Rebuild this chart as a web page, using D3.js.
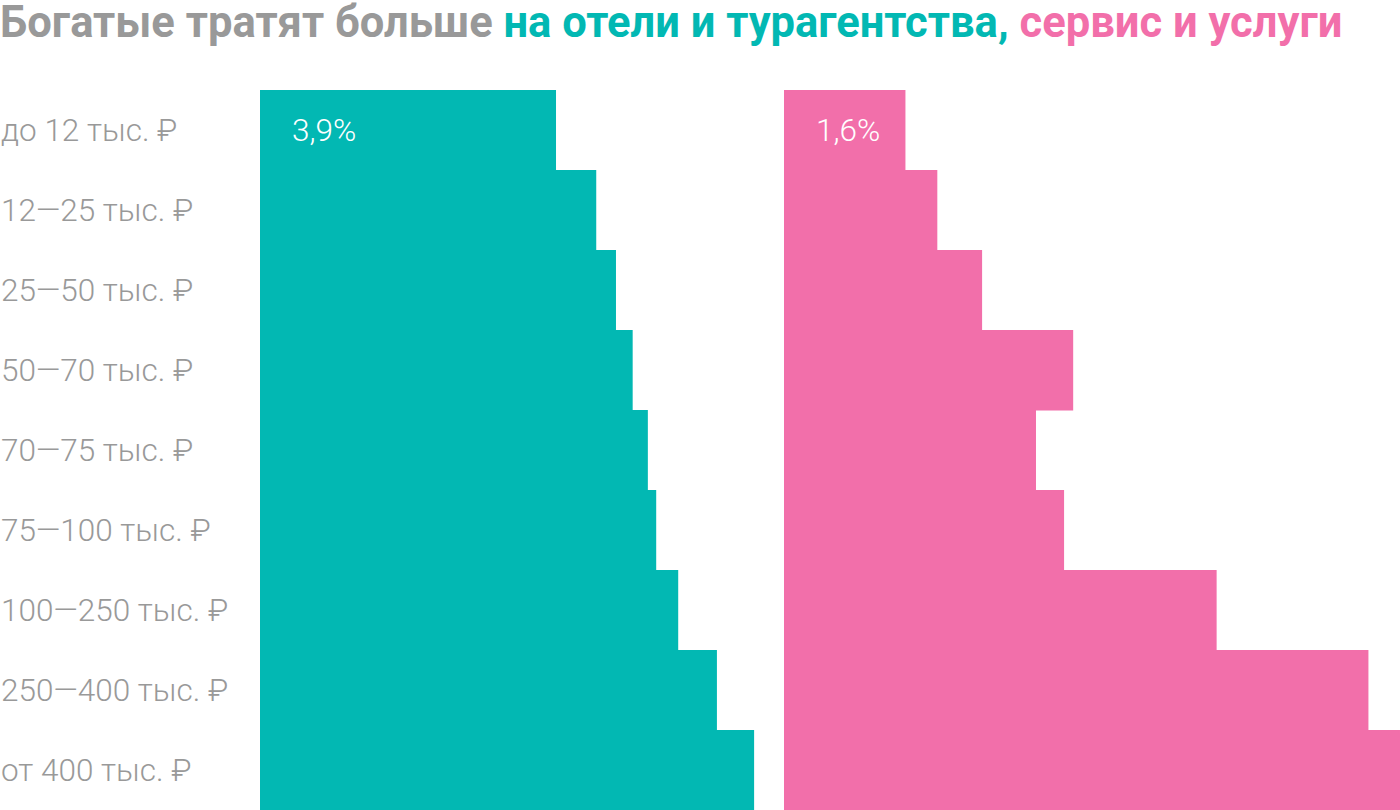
<!DOCTYPE html>
<html><head><meta charset="utf-8">
<script src="https://cdn.jsdelivr.net/npm/d3@7"></script>
<style>body{margin:0;background:#fff}svg{display:block}</style>
</head><body>
<svg id="c" width="1400" height="810"></svg>
<script>
const categories = ["до 12 тыс. ₽","12—25 тыс. ₽","25—50 тыс. ₽","50—70 тыс. ₽","70—75 тыс. ₽","75—100 тыс. ₽","100—250 тыс. ₽","250—400 тыс. ₽","от 400 тыс. ₽"];
const hotels = [3.9, 4.43, 4.69, 4.91, 5.11, 5.22, 5.51, 6.02, 6.51];
const services = [1.6, 2.02, 2.61, 3.81, 3.32, 3.69, 5.7, 7.7, 8.3];
const valueLabels = ["3,9%", "1,6%"];
const titleParts = [
  {text:"Богатые тратят больше ", color:"#999999"},
  {text:"на отели и турагентства,", color:"#02B8B3"},
  {text:" сервис и услуги", color:"#F26FAA"}
];
const teal = "#02B8B3", pink = "#F26FAA";

const svg = d3.select("#c");
const y = d3.scaleBand().domain(categories).range([90, 810]).padding(0);
const x = d3.scaleLinear().domain([0, 1]).range([0, 75.9]);
const originHotels = 260, originServices = 784;

// bars
svg.append("g").selectAll("rect").data(hotels).join("rect")
  .attr("x", originHotels).attr("y", (d,i)=>y(categories[i]))
  .attr("width", d=>x(d)).attr("height", y.bandwidth()+0.5).attr("fill", teal);
svg.append("g").selectAll("rect").data(services).join("rect")
  .attr("x", originServices).attr("y", (d,i)=>y(categories[i]))
  .attr("width", d=>Math.min(x(d), 1400-originServices)).attr("height", y.bandwidth()+0.5).attr("fill", pink);

// title
const title = svg.append("text").attr("x", 0).attr("y", 37)
  .attr("font-family", "Roboto, sans-serif").attr("font-weight", 700).attr("font-size", 42);
titleParts.forEach(p => title.append("tspan").attr("fill", p.color).text(p.text));
const tw = title.node().getComputedTextLength();
title.attr("font-size", 42 * 1343 / tw);

// category labels
const ax = svg.append("g").attr("font-family","Roboto, sans-serif").attr("font-weight",300)
  .attr("font-size", 31.5).attr("fill","#999999");
ax.selectAll("text").data(categories).join("text")
  .attr("x", 1).attr("y", d=>y(d)+y.bandwidth()/2).attr("dy","0.36em").text(d=>d);

// value labels
const vl = svg.append("g").attr("font-family","Roboto, sans-serif").attr("font-weight",300)
  .attr("font-size", 31.5).attr("fill","#ffffff");
vl.append("text").attr("x", originHotels+32).attr("y", y(categories[0])+y.bandwidth()/2).attr("dy","0.36em").text(valueLabels[0]);
vl.append("text").attr("x", originServices+32).attr("y", y(categories[0])+y.bandwidth()/2).attr("dy","0.36em").text(valueLabels[1]);
</script>
</body></html>
